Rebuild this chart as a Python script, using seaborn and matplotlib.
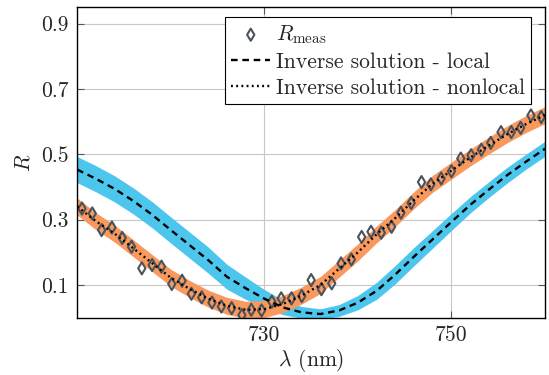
import matplotlib
matplotlib.use("Agg")
import matplotlib.pyplot as plt
import seaborn as sns

lam_meas = [710.5, 711.6, 712.6, 713.7, 714.8, 715.8, 716.9, 718.0, 719.0, 720.1,
            721.2, 722.2, 723.3, 724.4, 725.4, 726.5, 727.6, 728.6, 729.7, 730.8,
            731.8, 732.9, 734.0, 735.0, 736.1, 737.2, 738.2, 739.3, 740.4, 741.4,
            742.5, 743.6, 744.6, 745.7, 746.8, 747.8, 748.9, 750.0, 751.0, 752.1,
            753.2, 754.2, 755.3, 756.4, 757.4, 758.5, 759.6]
r_meas = [0.334, 0.319, 0.268, 0.276, 0.244, 0.217, 0.151, 0.161, 0.156, 0.103,
          0.113, 0.073, 0.062, 0.046, 0.034, 0.029, 0.008, 0.024, 0.022, 0.049,
          0.059, 0.059, 0.066, 0.115, 0.087, 0.105, 0.166, 0.178, 0.247, 0.263,
          0.260, 0.278, 0.321, 0.351, 0.415, 0.408, 0.426, 0.448, 0.487, 0.497,
          0.514, 0.535, 0.568, 0.568, 0.581, 0.619, 0.614]

# inverse solutions, sampled every 2 nm
lam_fit = [710, 712, 714, 716, 718, 720, 722, 724, 726, 728, 730, 732, 734,
           736, 738, 740, 742, 744, 746, 748, 750, 752, 754, 756, 758, 760]
r_local = [0.453, 0.425, 0.394, 0.357, 0.315, 0.268, 0.222, 0.176, 0.125, 0.090,
           0.058, 0.031, 0.016, 0.011, 0.022, 0.046, 0.082, 0.132, 0.187, 0.240,
           0.293, 0.345, 0.392, 0.437, 0.478, 0.517]
hw_local = [0.040, 0.040, 0.040, 0.040, 0.040, 0.040, 0.040, 0.040, 0.038, 0.034,
            0.028, 0.022, 0.018, 0.016, 0.018, 0.022, 0.026, 0.028, 0.028, 0.027,
            0.026, 0.025, 0.024, 0.024, 0.023, 0.023]
r_nonlocal = [0.340, 0.295, 0.257, 0.212, 0.167, 0.122, 0.088, 0.058, 0.036, 0.024,
              0.026, 0.042, 0.068, 0.100, 0.150, 0.200, 0.255, 0.305, 0.360, 0.410,
              0.450, 0.490, 0.527, 0.562, 0.593, 0.620]
hw_nonlocal = [0.026] * len(lam_fit)

blue = "#4dc6ee"
orange = "#f9995e"
marker_col = "#4a525c"
fs = 15.5

sns.set_style("ticks")
plt.rcParams["font.family"] = "serif"
plt.rcParams["font.serif"] = ["cmr10"]
plt.rcParams["mathtext.fontset"] = "cm"
plt.rcParams["axes.formatter.use_mathtext"] = True
plt.rcParams["font.size"] = fs

fig, ax = plt.subplots(figsize=(5.49, 3.75), dpi=100)
fig.subplots_adjust(left=0.1408, right=0.9927, top=0.9805, bottom=0.153)

lo_l = [r - h for r, h in zip(r_local, hw_local)]
hi_l = [r + h for r, h in zip(r_local, hw_local)]
lo_n = [r - h for r, h in zip(r_nonlocal, hw_nonlocal)]
hi_n = [r + h for r, h in zip(r_nonlocal, hw_nonlocal)]
ax.fill_between(lam_fit, lo_l, hi_l, color=blue, lw=0, zorder=2)
ax.fill_between(lam_fit, lo_n, hi_n, color=orange, lw=0, zorder=2)

sns.scatterplot(x=lam_meas, y=r_meas, ax=ax, marker="d", s=38, color=marker_col,
                edgecolor=marker_col, linewidth=1.5, zorder=4,
                label=r"$R_{\mathrm{meas}}$")
ax.collections[-1].set_facecolor("none")

sns.lineplot(x=lam_fit, y=r_local, ax=ax, color="black", lw=1.7,
             ls=(0, (2.8, 2.0)), zorder=5, label="Inverse solution - local")
sns.lineplot(x=lam_fit, y=r_nonlocal, ax=ax, color="black", lw=1.7,
             ls=(0, (0.8, 1.4)), zorder=5, label="Inverse solution - nonlocal")

ax.set_xlim(710, 760)
ax.set_ylim(0, 0.95)
ax.set_xticks([730, 750])
ax.set_yticks([0.1, 0.3, 0.5, 0.7, 0.9])
ax.set_xticklabels(["730", "750"])
ax.set_yticklabels(["0.1", "0.3", "0.5", "0.7", "0.9"])
ax.grid(True, color="#c8c8c8", lw=0.8, zorder=0)
ax.set_axisbelow(True)
ax.tick_params(direction="in", length=5, width=0.8, color="#555555",
               top=True, right=True, labelsize=fs, pad=6)
for sp in ax.spines.values():
    sp.set_color("black")
    sp.set_linewidth(1.0)
    sp.set_zorder(6)

ax.set_xlabel(r"$\lambda$ (nm)", fontsize=fs, labelpad=1)
ax.set_ylabel(r"$R$", fontsize=fs, labelpad=6)

leg = ax.legend(loc="upper right", bbox_to_anchor=(0.970, 0.969), borderaxespad=0,
                fancybox=False, edgecolor="black", framealpha=1, fontsize=fs,
                handlelength=1.8, handletextpad=0.25, borderpad=0.3, labelspacing=0.3)
leg.get_frame().set_linewidth(0.8)

fig.savefig("out.png", dpi=100)
